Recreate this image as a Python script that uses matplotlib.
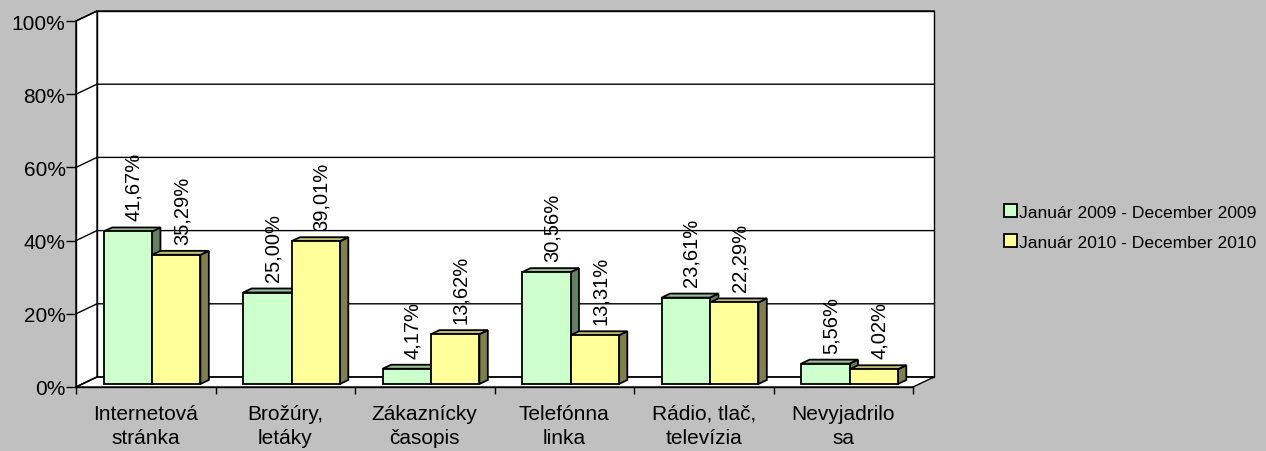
import matplotlib
matplotlib.use("Agg")
import matplotlib.pyplot as plt
from matplotlib.patches import Polygon, Patch

categories = ["Internetová\nstránka", "Brožúry,\nletáky", "Zákaznícky\nčasopis",
              "Telefónna\nlinka", "Rádio, tlač,\ntelevízia", "Nevyjadrilo\nsa"]
series_names = ["Január 2009 - December 2009", "Január 2010 - December 2010"]
values_2009 = [41.67, 25.00, 4.17, 30.56, 23.61, 5.56]
values_2010 = [35.29, 39.01, 13.62, 13.31, 22.29, 4.02]
yticks = [0, 20, 40, 60, 80, 100]

front_colors = ["#CCFFCC", "#FFFF99"]
top_colors = ["#99BF99", "#BFBF73"]
side_colors = ["#668066", "#80804D"]
BG = "#C0C0C0"

plt.rcParams['font.family'] = ['Liberation Sans', 'DejaVu Sans']

W, H = 1266, 452
fig = plt.figure(figsize=(W / 100, H / 100), dpi=100)
fig.patch.set_facecolor(BG)

x0, x1 = 76, 913
yb, yt = 388, 22
ax = fig.add_axes([x0 / W, (H - yb) / H, (x1 - x0) / W, (yb - yt) / H])
ax.set_xlim(0, len(categories))
ax.set_ylim(0, 100)
ax.set_facecolor("none")

ncat = len(categories)
DX = 21 / ((x1 - x0) / ncat)   # depth offset in category units
DY = 10 / ((yb - yt) / 100)    # depth offset in percent units

# walls (back wall, left wall, floor)
ax.add_patch(Polygon([(DX, DY), (ncat + DX, DY), (ncat + DX, 100 + DY), (DX, 100 + DY)],
                     closed=True, facecolor="white", edgecolor="black", lw=1.0,
                     zorder=0, clip_on=False))
ax.add_patch(Polygon([(0, 0), (DX, DY), (DX, 100 + DY), (0, 100)],
                     closed=True, facecolor="white", edgecolor="black", lw=1.0,
                     zorder=0, clip_on=False))
ax.add_patch(Polygon([(0, 0), (ncat, 0), (ncat + DX, DY), (DX, DY)],
                     closed=True, facecolor="white", edgecolor="black", lw=1.0,
                     zorder=0, clip_on=False))
for yv in yticks:
    ax.plot([0, DX, ncat + DX], [yv, yv + DY, yv + DY], color="black", lw=1.0,
            zorder=0.5, clip_on=False)

# bars
f0 = 0.3      # front face depth position (fraction of wall depth)
fd = 0.4      # bar depth (fraction of wall depth)
bw = 0.3466   # bar width
bdx, bdy = fd * DX, fd * DY
ox, oy = f0 * DX, f0 * DY

label_kw = dict(rotation=90, ha="center", va="bottom", fontsize=14.5,
                textcoords="offset points", annotation_clip=False, zorder=10)

for i in range(ncat):
    for s, vals in enumerate([values_2009, values_2010]):
        v = vals[i]
        left = i + 0.5 - bw + s * bw + ox
        right = left + bw
        b = oy
        t = v + oy
        ax.add_patch(Polygon([(right, b), (right + bdx, b + bdy), (right + bdx, t + bdy), (right, t)],
                             closed=True, facecolor=side_colors[s], edgecolor="black",
                             lw=1.3, joinstyle="miter", zorder=2, clip_on=False))
        ax.add_patch(Polygon([(left, t), (right, t), (right + bdx, t + bdy), (left + bdx, t + bdy)],
                             closed=True, facecolor=top_colors[s], edgecolor="black",
                             lw=1.3, joinstyle="miter", zorder=2, clip_on=False))
        ax.add_patch(Polygon([(left, b), (right, b), (right, t), (left, t)],
                             closed=True, facecolor=front_colors[s], edgecolor="black",
                             lw=1.3, joinstyle="miter", zorder=2, clip_on=False))
        ax.annotate(f"{v:.2f}%".replace(".", ","), xy=((left + right) / 2 + bdx / 2 + 0.01, t),
                    xytext=(0, 8), **label_kw)

# axes: spines and ticks
for sp in ["top", "right"]:
    ax.spines[sp].set_visible(False)
for sp in ["left", "bottom"]:
    ax.spines[sp].set_color("black")
    ax.spines[sp].set_linewidth(1.0)
    ax.spines[sp].set_zorder(3)
ax.set_yticks(yticks)
ax.set_yticklabels([f"{v}%" for v in yticks], fontsize=15)
ax.tick_params(axis="y", direction="out", length=7, width=1.0, pad=0.5, color="black")
ax.set_xticks(range(ncat + 1))
ax.set_xticklabels([])
ax.tick_params(axis="x", which="major", direction="out", length=5, width=1.0, color="black")
ax.set_xticks([i + 0.5 for i in range(ncat)], minor=True)
ax.set_xticklabels(categories, minor=True, fontsize=15, linespacing=1.35)
ax.tick_params(axis="x", which="minor", length=0, pad=12)

# legend
handles = [Patch(facecolor=front_colors[s], edgecolor="black", lw=1.3) for s in range(2)]
fig.legend(handles, series_names, loc="center left",
           bbox_to_anchor=(1004 / W, 1 - 228 / H), frameon=False, fontsize=12.6,
           handlelength=0.75, handleheight=0.75, handletextpad=0.1, labelspacing=0.8,
           borderpad=0, borderaxespad=0)

fig.savefig("out.png", dpi=100, facecolor=BG)
